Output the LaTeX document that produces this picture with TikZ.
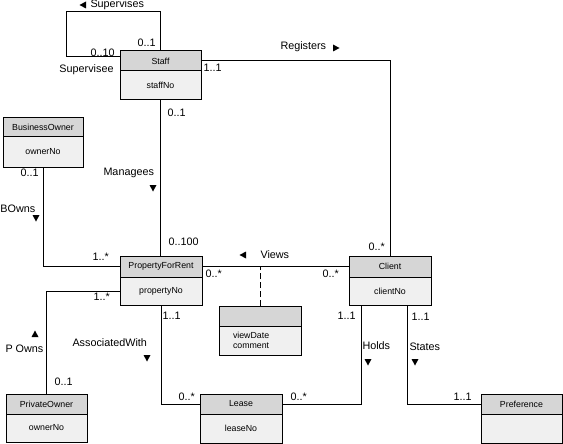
\documentclass[tikz,border=0pt]{standalone}
\usepackage{fontspec}
\setmainfont{Liberation Sans}
\usetikzlibrary{calc}
\definecolor{hdrgray}{RGB}{214,214,214}
\definecolor{bdygray}{RGB}{240,240,240}
\begin{document}
\begin{tikzpicture}[x=1pt,y=-1pt,line width=1pt,
  hdr/.style={draw, fill=hdrgray, inner sep=0pt, outer sep=0pt, anchor=north west, font=\fontsize{8.8}{10}\selectfont},
  bdy/.style={draw, fill=bdygray, inner sep=0pt, outer sep=0pt, anchor=north west, font=\fontsize{8.8}{10}\selectfont},
  lbl/.style={inner sep=0pt, anchor=west, font=\fontsize{10.8}{12}\selectfont},
  tridn/.pic={\fill (-3.5,-3) -- (3.5,-3) -- (0,3.5) -- cycle;},
  triup/.pic={\fill (-3.5,3) -- (3.5,3) -- (0,-3.5) -- cycle;},
  trilf/.pic={\fill (3,-3.5) -- (3,3.5) -- (-3.5,0) -- cycle;},
  trirt/.pic={\fill (-3,-3.5) -- (-3,3.5) -- (3.5,0) -- cycle;}]
\useasboundingbox (0,0) rectangle (563,444);
% classes
\node[hdr, minimum width=81, minimum height=20] (staffH) at (120,51) {Staff};
\node[bdy, minimum width=81, minimum height=29] (staff) at (staffH.south west) {staffNo};
\node[hdr, minimum width=80, minimum height=19] (boH) at (3,118) {BusinessOwner};
\node[bdy, minimum width=80, minimum height=30] (bo) at (boH.south west) {ownerNo};
\node[hdr, minimum width=82, minimum height=21] (pfrH) at (120,256) {PropertyForRent};
\node[bdy, minimum width=82, minimum height=28] (pfr) at (pfrH.south west) {propertyNo};
\node[hdr, minimum width=82, minimum height=21] (clientH) at (349,256) {Client};
\node[bdy, minimum width=82, minimum height=28] (client) at (clientH.south west) {clientNo};
\node[hdr, minimum width=82, minimum height=20] (assocH) at (219,306) {};
\node[bdy, minimum width=82, minimum height=29, text width=54, align=left] (assoc) at (assocH.south west) {viewDate\\comment};
\node[hdr, minimum width=81, minimum height=20] (poH) at (6,394) {PrivateOwner};
\node[bdy, minimum width=81, minimum height=28] (po) at (poH.south west) {ownerNo};
\node[hdr, minimum width=82, minimum height=20] (leaseH) at (200,394) {Lease};
\node[bdy, minimum width=82, minimum height=29] (lease) at (leaseH.south west) {leaseNo};
\node[hdr, minimum width=81, minimum height=20] (prefH) at (481,394) {Preference};
\node[bdy, minimum width=81, minimum height=29] (pref) at (prefH.south west) {};
% connectors
\coordinate (loopTL) at (66,12);
\draw (staffH.north) |- (loopTL) |- ($(staffH.west)+(0,-4)$);
\draw (staffH.east) -| (clientH.north);
\draw (staff.south) -- (staff.south |- pfrH.north);
\draw (bo.south) |- (pfrH.west);
\draw (poH.north) |- (pfr.west);
\draw (pfr.south) |- (leaseH.west);
\draw (leaseH.east) -| ($(client.south)+(-29,0)$);
\draw ($(client.south)+(17,0)$) |- (prefH.west);
\draw (pfrH.east) -- (clientH.west);
\draw[dash pattern=on 6pt off 3pt] (assocH.north) -- (assocH.north |- pfrH.east);
% labels
\node[lbl] (lSup) at (90,5) {Supervises};
\node[lbl] (lSup1) at (137,43) {0..1};
\node[lbl] (lSup2) at (90,53) {0..10};
\node[lbl] (lSupee) at (59,70) {Supervisee};
\node[lbl] (lReg1) at (203,68) {1..1};
\node[lbl] (lReg) at (280,47) {Registers};
\node[lbl] (lReg2) at (368,247) {0..*};
\node[lbl] (lMan1) at (167,113) {0..1};
\node[lbl] (lMan) at (103,173) {Managees};
\node[lbl] (lMan2) at (168,242) {0..100};
\node[lbl] (lBO1) at (20,173) {0..1};
\node[lbl] (lBO) at (0,209) {BOwns};
\node[lbl] (lBO2) at (92,257) {1..*};
\node[lbl] (lV1) at (205,274) {0..*};
\node[lbl] (lV) at (260,255) {Views};
\node[lbl] (lV2) at (322,274) {0..*};
\node[lbl] (lPO1) at (93,297) {1..*};
\node[lbl] (lPO) at (5,349) {P Owns};
\node[lbl] (lPO2) at (54,382) {0..1};
\node[lbl] (lAW1) at (162,316) {1..1};
\node[lbl] (lAW) at (72,343) {AssociatedWith};
\node[lbl] (lAW2) at (178,397) {0..*};
\node[lbl] (lH1) at (337,316) {1..1};
\node[lbl] (lH) at (362,346) {Holds};
\node[lbl] (lH2) at (290,397) {0..*};
\node[lbl] (lS1) at (411,317) {1..1};
\node[lbl] (lS) at (409,347) {States};
\node[lbl] (lS2) at (453,397) {1..1};
% direction triangles
\pic at (83,5) {trilf};
\pic at (336,48) {trirt};
\pic at (243,255) {trilf};
\pic at (153,188) {tridn};
\pic at (36,218) {tridn};
\pic at (147,358) {tridn};
\pic at (368,362) {tridn};
\pic at (415,362) {tridn};
\pic at (35,334) {triup};
\end{tikzpicture}
\end{document}
